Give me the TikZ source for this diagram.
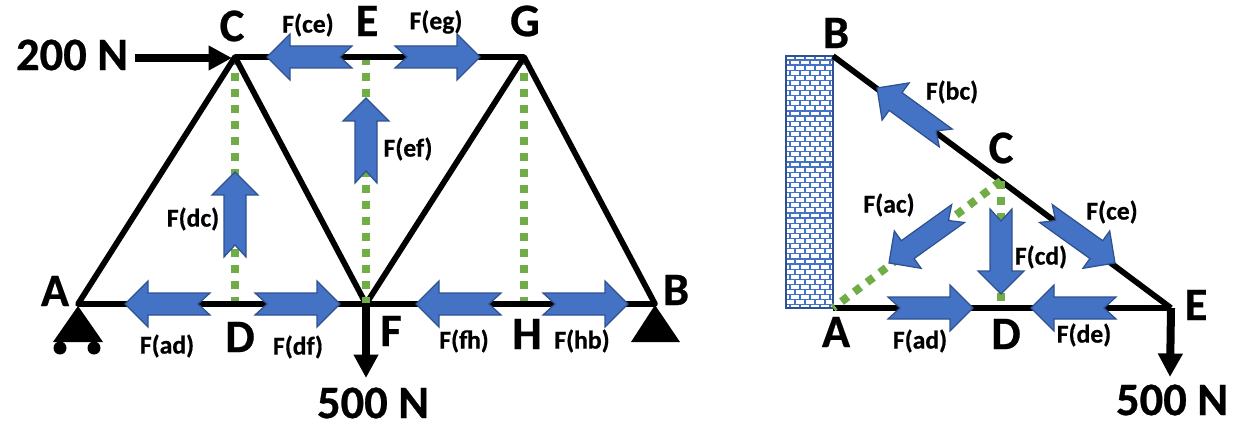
\documentclass[tikz,border=0pt]{standalone}
\usepackage{fontspec}
\setmainfont{Carlito}[BoldFeatures={FakeBold=0.6}]
\usetikzlibrary{arrows.meta}
\definecolor{forceblue}{HTML}{4472C4}
\definecolor{forceedge}{HTML}{2F528F}
\definecolor{zerogreen}{HTML}{70AD47}
\tikzset{
  member/.style={line width=0.115cm,black,line join=round},
  zeromember/.style={line width=0.16cm,zerogreen,dash pattern=on 0.16cm off 0.16cm},
  load/.style={line width=0.15cm,-{Triangle[length=0.47cm,width=0.47cm]}},
  force/.style={fill=forceblue,draw=forceedge,line width=0.025cm},
  jointlabel/.style={font=\fontsize{26.5}{26.5}\bfseries,inner sep=0pt},
  forcelabel/.style={font=\fontsize{14.6}{14.6}\bfseries,inner sep=0pt},
  support/.style={fill=black}
}
% tip position, direction
\newcommand{\forcearrow}[2]{
  \draw[force,shift={(#1)},rotate=#2] (0,0) -- (-23,23) -- (-23,11) -- (-85,11) -- (-73,0)
    -- (-85,-11) -- (-23,-11) -- (-23,-23) -- cycle;
}
\begin{document}
\begin{tikzpicture}[x=0.02cm,y=-0.02cm]
\useasboundingbox (0,0) rectangle (1237,422);

% left truss
\coordinate (A) at (78,304);
\coordinate (C) at (235,57);
\coordinate (D) at (235,304);
\coordinate (E) at (366,57);
\coordinate (F) at (366,304);
\coordinate (G) at (524,57);
\coordinate (H) at (524,304);
\coordinate (B) at (655,304);
\coordinate (loadstart) at (135,58);
\coordinate (loadtip) at (232,58);
\coordinate (loadend) at (366,378);

\draw[zeromember] (C) -- (D);
\draw[zeromember] (E) -- (F);
\draw[zeromember] (G) -- (H);
\draw[member] (A) -- (C) -- (G) -- (B) -- cycle;
\draw[member] (C) -- (F) -- (G);
\fill[zerogreen] (362,297) rectangle (370,303);
\draw[load] (loadstart) -- (loadtip);
\draw[load] (F) -- (loadend);

\fill[support] (78,306) -- (103,342) -- (53,342) -- cycle;
\fill[support] (60,348) circle (6.5);
\fill[support] (94,348) circle (6.5);
\fill[support] (655,305) -- (680,342) -- (631,342) -- cycle;

\forcearrow{267,57}{180}
\forcearrow{480,57}{0}
\forcearrow{366,98}{90}
\forcearrow{235,172}{90}
\forcearrow{125,304}{180}
\forcearrow{340,304}{0}
\forcearrow{416,304}{180}
\forcearrow{628,304}{0}

\node[jointlabel] (labelC) at (232,26) {C};
\node[jointlabel] (labelE) at (367,21) {E};
\node[jointlabel] (labelG) at (525,21) {G};
\node[jointlabel] (labelA) at (55,291) {A};
\node[jointlabel] (labelD) at (240,337) {D};
\node[jointlabel] (labelF) at (391,331) {F};
\node[jointlabel] (labelH) at (527,334) {H};
\node[jointlabel] (labelB) at (676,290) {B};
\node[jointlabel] (labelleft) at (72,55) {200 N};
\node[jointlabel] (labeldown) at (373,403) {500 N};
\node[forcelabel] (labelce) at (308,25) {F(ce)};
\node[forcelabel] (labeleg) at (436,22) {F(eg)};
\node[forcelabel] (labelef) at (408,149) {F(ef)};
\node[forcelabel] (labeldc) at (193,219) {F(dc)};
\node[forcelabel] (labelad) at (167,346) {F(ad)};
\node[forcelabel] (labeldf) at (298,347) {F(df)};
\node[forcelabel] (labelfh) at (464,341) {F(fh)};
\node[forcelabel] (labelhb) at (582,341) {F(hb)};

% right truss
\fill[white] (786,56) rectangle (833,308);
\begin{scope}
\clip (786,56) rectangle (833,308);
\foreach \row in {0,...,49}{
  \draw[forceblue,line width=0.024cm] (786,60+5.1*\row) -- (833,60+5.1*\row);
  \foreach \col in {0,...,4}{
    \pgfmathsetmacro{\brickx}{790+10*\col+5*(1-mod(\row,2))}
    \draw[forceblue,line width=0.024cm] (\brickx,54.9+5.1*\row) -- (\brickx,60+5.1*\row);
  }
}
\end{scope}
\draw[forceedge,line width=0.04cm] (786,56) rectangle (833,308);

\coordinate (rB) at (833,56);
\coordinate (rC) at (1001,181);
\coordinate (rE) at (1171,308);
\coordinate (rA) at (833,308);
\coordinate (rD) at (1001,308);
\coordinate (rDtop) at (1001,301);
\coordinate (rloadend) at (1170,377);

\draw[member] (rB) -- (rC) -- (rE);
\draw[member] (rA) -- (rD) -- (rE);
\draw[load,line width=0.16cm] (rE) -- (rloadend);
\draw[zeromember] (rC) -- (rDtop);
\draw[zeromember] (rC) -- (rA);

\forcearrow{877,88}{144}
\forcearrow{889,263}{215.6}
\forcearrow{1115,263}{-35.6}
\forcearrow{1001,294}{270}
\forcearrow{973,308}{0}
\forcearrow{1031,308}{180}

\node[jointlabel] (labelrB) at (836,33) {B};
\node[jointlabel] (labelrC) at (1001,148) {C};
\node[jointlabel] (labelrA) at (836,332) {A};
\node[jointlabel] (labelrD) at (1006,334) {D};
\node[jointlabel] (labelrE) at (1196,305) {E};
\node[jointlabel] (labelrdown) at (1172,400) {500 N};
\node[forcelabel] (labelbc) at (952,92) {F(bc)};
\node[forcelabel] (labelac) at (889,205) {F(ac)};
\node[forcelabel] (labelrce) at (1112,212) {F(ce)};
\node[forcelabel] (labelcd) at (1041,257) {F(cd)};
\node[forcelabel] (labelrad) at (920,341) {F(ad)};
\node[forcelabel] (labelde) at (1084,335) {F(de)};
\end{tikzpicture}
\end{document}
